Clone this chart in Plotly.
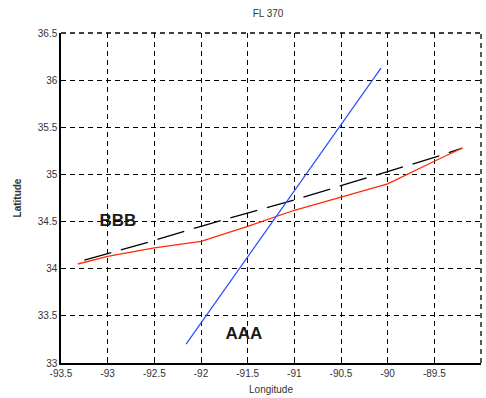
import plotly.graph_objects as go

red_lon = [-93.32, -93.0, -92.5, -92.0, -91.5, -91.0, -90.5, -90.0, -89.5, -89.2]
red_lat = [34.05, 34.13, 34.22, 34.29, 34.45, 34.62, 34.76, 34.9, 35.14, 35.28]

blk_lon = [-93.25, -92.5, -92.0, -91.5, -91.0, -90.5, -90.0, -89.5, -89.2]
blk_lat = [34.09, 34.30, 34.45, 34.59, 34.73, 34.88, 35.03, 35.18, 35.28]

blue_lon = [-92.16, -90.07]
blue_lat = [33.2, 36.13]

labels = ["BBB", "AAA"]
label_lon = [-92.89, -91.54]
label_lat = [34.5, 33.3]

xticks = [-93.5, -93, -92.5, -92, -91.5, -91, -90.5, -90, -89.5, -89]
yticks = [33, 33.5, 34, 34.5, 35, 35.5, 36, 36.5]

fig = go.Figure()
fig.add_trace(go.Scatter(x=blk_lon, y=blk_lat, mode="lines",
                         line=dict(color="black", width=1.3, dash="28px,10px")))
fig.add_trace(go.Scatter(x=red_lon, y=red_lat, mode="lines",
                         line=dict(color="#ff2a00", width=1.3)))
fig.add_trace(go.Scatter(x=blue_lon, y=blue_lat, mode="lines",
                         line=dict(color="#2a4dff", width=1.2)))
fig.add_trace(go.Scatter(x=label_lon, y=label_lat, mode="text",
                         text=[f"<b>{t}</b>" for t in labels],
                         textfont=dict(family="Liberation Sans", size=17, color="#1a1a1a"),
                         textposition="middle center"))

fig.update_layout(
    width=486, height=398,
    margin=dict(l=61, r=5, t=33, b=35),
    paper_bgcolor="white", plot_bgcolor="white",
    showlegend=False,
    font=dict(family="Liberation Sans", size=10, color="#333333"),
    title=dict(text="FL 370", x=0.5515, xanchor="center", y=0.975, yanchor="top",
               font=dict(family="Liberation Sans", size=10, color="#333333")),
    xaxis=dict(range=[-93.5, -89], tickvals=xticks, ticktext=[f"{v:g}" for v in xticks],
               showgrid=True, gridcolor="black", griddash="5px,4px", gridwidth=1.3,
               showline=True, linecolor="black", linewidth=1.5,
               ticks="inside", ticklen=3, tickcolor="black",
               zeroline=False, tickfont=dict(size=10, color="#333333"),
               title=dict(text="Longitude", standoff=8, font=dict(size=10, color="#333333"))),
    yaxis=dict(range=[33, 36.5], tickvals=yticks, ticktext=[f"{v:g}" for v in yticks],
               showgrid=True, gridcolor="black", griddash="5px,4px", gridwidth=1.3,
               showline=True, linecolor="black", linewidth=1.5,
               ticks="inside", ticklen=3, tickcolor="black",
               zeroline=False, tickfont=dict(size=10, color="#333333"),
               title=dict(text="<b>Latitude</b>", standoff=14, font=dict(size=10, color="#333333"))),
)
fig.add_shape(type="line", xref="paper", yref="paper", x0=0, x1=1, y0=1, y1=1,
              line=dict(color="black", width=1.3, dash="5px,4px"))
fig.add_shape(type="line", xref="paper", yref="paper", x0=1, x1=1, y0=0, y1=1,
              line=dict(color="black", width=1.3, dash="5px,4px"))

fig.write_html("out.html")
